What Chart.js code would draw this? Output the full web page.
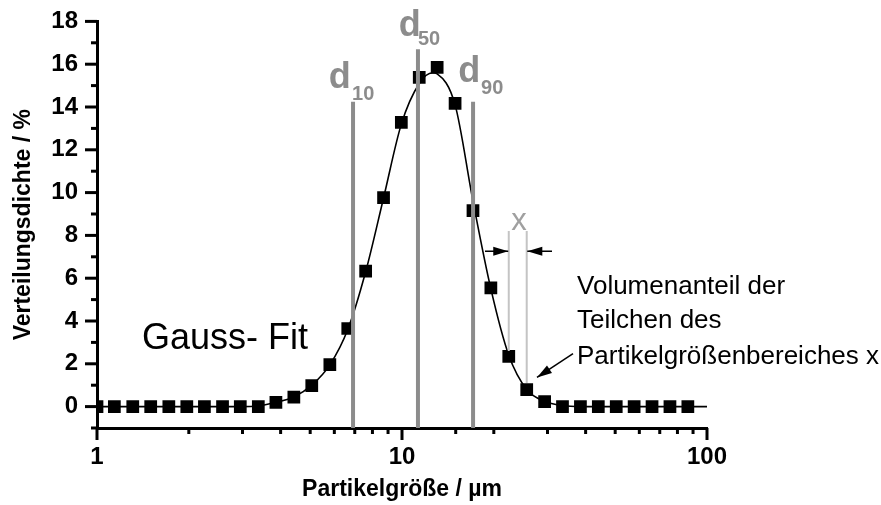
<!DOCTYPE html>
<html>
<head>
<meta charset="utf-8">
<script src="https://cdn.jsdelivr.net/npm/chart.js@4.4.1/dist/chart.umd.min.js"></script>
<style>
  html, body { margin: 0; padding: 0; background: #fff; }
</style>
</head>
<body>
<canvas id="psd" width="881" height="505"></canvas>
<script>
// Particle size classes (µm) and measured density (%)
const sizes = [1.00, 1.14, 1.31, 1.50, 1.72, 1.97, 2.25, 2.58, 2.95, 3.38,
               3.86, 4.42, 5.06, 5.80, 6.64, 7.60, 8.70, 9.95, 11.39, 13.04,
               14.93, 17.09, 19.56, 22.39, 25.64, 29.35, 33.59, 38.46, 44.02, 50.40,
               57.69, 66.04, 75.60, 86.54];
const density = [0, 0, 0, 0, 0, 0, 0, 0, 0, 0,
                 0.2, 0.44, 0.98, 1.96, 3.65, 6.33, 9.77, 13.28, 15.38, 15.85,
                 14.17, 9.16, 5.55, 2.35, 0.79, 0.23, 0, 0, 0, 0,
                 0, 0, 0, 0];

// Gauss fit curve
const fitSizes = [1, 1.5, 2.25, 2.95, 3.38, 3.86, 4.42, 5.06, 5.80, 6.64, 7.60, 8.70, 9.95,
                  11.39, 12.6, 13.04, 14.93, 17.09, 19.56, 22.39, 25.64, 29.35, 33.59, 38.46, 60, 100];
const fitValues = [0, 0, 0, 0, 0.03, 0.2, 0.45, 1.0, 1.95, 3.6, 6.3, 9.75, 13.2,
                   15.1, 15.6, 15.55, 14.1, 9.6, 5.5, 2.4, 0.8, 0.25, 0.05, 0, 0, 0];

// d10 / d50 / d90
const percentileNames = ['10', '50', '90'];
const percentileSizes = [6.91, 11.28, 17.1];
const percentileTops = [14.25, 16.7, 14.25];

// size range x (class borders)
const rangeSizes = [22.39, 25.64];
const rangeBottoms = [2.6, 1.1];
const rangeTop = 8.2;

const xTickLabels = [1, 10, 100];
const yTickLabels = [0, 2, 4, 6, 8, 10, 12, 14, 16, 18];

const FONT = '"Liberation Sans", Arial, sans-serif';
const GRAY = '#8c8c8c';
const LIGHT = '#c4c4c4';

Chart.defaults.font.family = FONT;

// vertical lines from the axis up to their top value
var datasets = [];
percentileSizes.forEach(function (s, i) {
    datasets.push({
        data: [{x: s, y: -1}, {x: s, y: percentileTops[i]}],
        borderColor: GRAY, borderWidth: 4, pointRadius: 0, order: 0
    });
});
rangeSizes.forEach(function (s, i) {
    datasets.push({
        data: [{x: s, y: rangeBottoms[i]}, {x: s, y: rangeTop}],
        borderColor: LIGHT, borderWidth: 2, pointRadius: 0, order: 1
    });
});
datasets.push({
    data: sizes.map((s, i) => ({x: s, y: density[i]})),
    showLine: false, pointStyle: 'rect', pointRadius: 9,
    backgroundColor: '#000', borderColor: '#000', borderWidth: 0, order: 2
});
datasets.push({
    data: fitSizes.map((s, i) => ({x: s, y: fitValues[i]})),
    borderColor: '#000', borderWidth: 1.6, pointRadius: 0,
    cubicInterpolationMode: 'monotone', order: 3
});

// texts in data coordinates
const notes = [
    {text: 'Gauss- Fit', x: 1.405, y: 2.71, size: 36, color: '#000'},
    {text: 'Volumenanteil der', x: 37.48, y: 5.28, size: 26, color: '#000'},
    {text: 'Teilchen des', x: 37.48, y: 3.65, size: 26, color: '#000'},
    {text: 'Partikelgrößenbereiches x', x: 37.48, y: 2.01, size: 26, color: '#000'},
    {text: 'x', x: 24.2, y: 8.25, size: 31, color: '#a0a0a0', align: 'center'}
];
const dLabelPos = [
    {d: [5.75, 14.91], sub: [6.86, 14.31]},
    {d: [9.75, 17.34], sub: [11.28, 16.88]},
    {d: [15.3, 15.15], sub: [18.16, 14.63]}
];
const arrows = [
    {from: [18.71, 7.26], to: [22.3, 7.26]},
    {from: [31.03, 7.26], to: [25.75, 7.26]},
    {from: [36.37, 2.48], to: [27.71, 1.36]}
];

function arrowHead(ctx, x1, y1, x2, y2, len, half) {
    const a = Math.atan2(y2 - y1, x2 - x1);
    const bx = x2 - len * Math.cos(a), by = y2 - len * Math.sin(a);
    ctx.beginPath();
    ctx.moveTo(x2, y2);
    ctx.lineTo(bx + half * Math.sin(a), by - half * Math.cos(a));
    ctx.lineTo(bx - half * Math.sin(a), by + half * Math.cos(a));
    ctx.closePath();
    ctx.fill();
}

// tick marks with major / minor lengths
const tickPlugin = {
    id: 'tickMarks',
    afterDraw(chart) {
        const ctx = chart.ctx, xs = chart.scales.x, ys = chart.scales.y;
        ctx.save();
        ctx.strokeStyle = '#000';
        ctx.lineWidth = 3;
        ys.ticks.forEach(function (t) {
            const py = ys.getPixelForValue(t.value);
            const len = yTickLabels.includes(t.value) ? 12 : 6;
            ctx.beginPath();
            ctx.moveTo(ys.right - len, py);
            ctx.lineTo(ys.right, py);
            ctx.stroke();
        });
        xs.ticks.forEach(function (t) {
            const px = xs.getPixelForValue(t.value);
            const len = xTickLabels.includes(t.value) ? 12 : 6;
            ctx.beginPath();
            ctx.moveTo(px, xs.top);
            ctx.lineTo(px, xs.top + len);
            ctx.stroke();
        });
        ctx.restore();
    }
};

const notePlugin = {
    id: 'notes',
    afterDatasetsDraw(chart) {
        const ctx = chart.ctx, xs = chart.scales.x, ys = chart.scales.y;
        const X = v => xs.getPixelForValue(v), Y = v => ys.getPixelForValue(v);
        ctx.save();
        ctx.textBaseline = 'alphabetic';
        notes.forEach(function (n) {
            ctx.font = n.size + 'px ' + FONT;
            ctx.fillStyle = n.color;
            ctx.textAlign = n.align || 'left';
            ctx.fillText(n.text, X(n.x), Y(n.y));
        });
        ctx.textAlign = 'left';
        ctx.fillStyle = GRAY;
        dLabelPos.forEach(function (p, i) {
            ctx.font = 'bold 36px ' + FONT;
            ctx.fillText('d', X(p.d[0]), Y(p.d[1]));
            ctx.font = 'bold 20px ' + FONT;
            ctx.fillText(percentileNames[i], X(p.sub[0]), Y(p.sub[1]));
        });
        ctx.strokeStyle = '#000';
        ctx.fillStyle = '#000';
        ctx.lineWidth = 1.5;
        arrows.forEach(function (a) {
            const x1 = X(a.from[0]), y1 = Y(a.from[1]), x2 = X(a.to[0]), y2 = Y(a.to[1]);
            ctx.beginPath();
            ctx.moveTo(x1, y1);
            ctx.lineTo(x2, y2);
            ctx.stroke();
            arrowHead(ctx, x1, y1, x2, y2, 15, 4.5);
        });
        ctx.restore();
    }
};

new Chart(document.getElementById('psd'), {
    type: 'line',
    data: {datasets: datasets},
    plugins: [tickPlugin, notePlugin],
    options: {
        responsive: false,
        animation: false,
        layout: {padding: {left: 0, right: 174, top: 21, bottom: 0}},
        plugins: {legend: {display: false}, tooltip: {enabled: false}},
        scales: {
            x: {
                type: 'logarithmic', min: 1, max: 100,
                afterFit(scale) { scale.height = 77; },
                border: {display: true, color: '#000', width: 3},
                grid: {display: true, drawOnChartArea: false, drawTicks: true, tickLength: 12, color: 'rgba(0,0,0,0)'},
                ticks: {
                    autoSkip: false, maxRotation: 0, padding: 3, color: '#000',
                    font: {size: 24, weight: 'bold'},
                    callback: v => (xTickLabels.includes(v) ? String(v) : '')
                },
                title: {display: true, text: 'Partikelgröße / µm', color: '#000',
                        font: {size: 23, weight: 'bold'}, padding: {top: 0, bottom: 2}}
            },
            y: {
                min: -1, max: 18,
                afterFit(scale) { scale.width = 97; },
                border: {display: true, color: '#000', width: 3},
                grid: {display: true, drawOnChartArea: false, drawTicks: true, tickLength: 12, color: 'rgba(0,0,0,0)'},
                ticks: {
                    stepSize: 1, autoSkip: false, padding: 7, color: '#000',
                    font: {size: 24, weight: 'bold'},
                    callback: v => (yTickLabels.includes(v) ? String(v) : '')
                },
                title: {display: true, text: 'Verteilungsdichte / %', color: '#000',
                        font: {size: 23, weight: 'bold'}, padding: {top: 10, bottom: 0}}
            }
        }
    }
});
</script>
</body>
</html>
